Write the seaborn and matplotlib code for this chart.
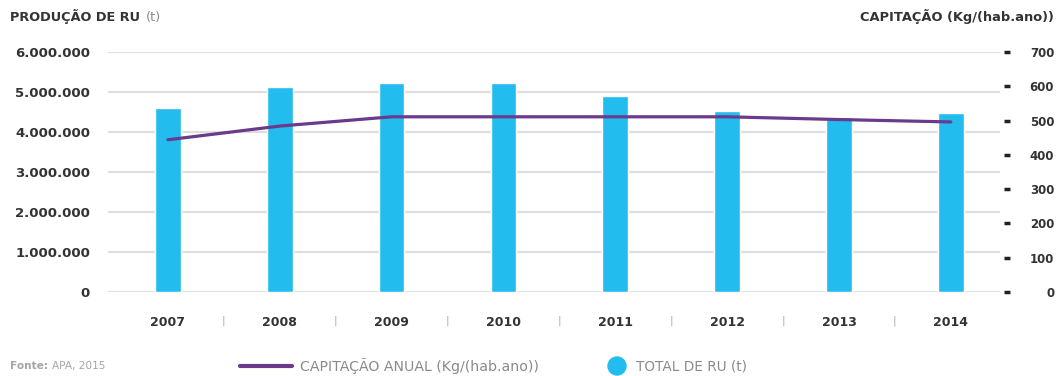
import matplotlib
matplotlib.use("Agg")
import matplotlib.pyplot as plt
from matplotlib.ticker import FuncFormatter, FixedLocator
from matplotlib.lines import Line2D
from matplotlib.patches import Circle
import seaborn as sns
import numpy as np
import pandas as pd

# ---- data ----
years = ["2007", "2008", "2009", "2010", "2011", "2012", "2013", "2014"]
total_ru = [4600000, 5120000, 5220000, 5220000, 4890000, 4530000, 4380000, 4480000]
capitacao = [444, 484, 511, 511, 511, 511, 503, 496]
left_ticks = [0, 1000000, 2000000, 3000000, 4000000, 5000000, 6000000]
right_ticks = [0, 100, 200, 300, 400, 500, 600, 700]

BAR = "#22BDEE"
LINE = "#6A3A8C"
TXT = "#333333"
GRAY = "#8a8a8a"
GRID = "#dedede"

sns.set_theme(style="white")
plt.rcParams["font.family"] = ["DejaVu Sans"]

W, H = 1057, 376
fig = plt.figure(figsize=(W / 100, H / 100), dpi=100)
L, R, B, T = 108, 1000, 292, 52
ax = fig.add_axes([L / W, 1 - B / H, (R - L) / W, (B - T) / H])

df = pd.DataFrame({"ano": years, "total": total_ru})
sns.barplot(data=df, x="ano", y="total", order=years, color=BAR, width=0.23,
            saturation=1, ax=ax, zorder=2)
ax.set_xlim(-0.536, 7.44)
ax.set_ylim(0, 6000000)
ax.set_xlabel("")
ax.set_ylabel("")
ax.yaxis.set_major_locator(FixedLocator(left_ticks))
ax.yaxis.set_major_formatter(FuncFormatter(lambda v, p: f"{int(v):,}".replace(",", ".")))
ax.grid(axis="y", color=GRID, linewidth=1.5, zorder=0)
ax.set_axisbelow(True)
for s in ax.spines.values():
    s.set_visible(False)
ax.tick_params(axis="y", length=0, pad=13, labelsize=9.5, labelcolor=TXT)
ax.tick_params(axis="x", length=0, pad=17, labelsize=9, labelcolor=TXT)
for lab in ax.get_yticklabels() + ax.get_xticklabels():
    lab.set_fontweight("bold")

# separators between years
ax.set_xticks(np.arange(len(years) - 1) + 0.5, minor=True)
ax.set_xticklabels(["|"] * (len(years) - 1), minor=True)
ax.tick_params(axis="x", which="minor", length=0, pad=17, labelsize=8, labelcolor="#aaaaaa")

ax2 = ax.twinx()
sns.lineplot(x=np.arange(len(years)), y=capitacao, color=LINE, linewidth=2.3, ax=ax2, zorder=3)
ax2.set_ylim(0, 700)
ax2.yaxis.set_major_locator(FixedLocator(right_ticks))
for s in ax2.spines.values():
    s.set_visible(False)
ax2.spines["right"].set_position(("outward", 3))
ax2.tick_params(axis="y", direction="out", length=4, width=2.5, color="#222222",
                pad=32, labelsize=8.5, labelcolor=TXT)
for lab in ax2.get_yticklabels():
    lab.set_fontweight("bold")
    lab.set_ha("right")
ax2.set_ylabel("")
ax2.grid(False)

# titles
t1 = fig.text(10 / W, 1 - 17 / H, "PRODUÇÃO DE RU", fontsize=9.3, fontweight="bold",
              color=TXT, va="center", ha="left")
ax.annotate("(t)", xy=(1, 0.5), xycoords=t1, xytext=(4, 0), textcoords="offset points",
            fontsize=9.3, color=GRAY, va="center", ha="left", annotation_clip=False)
fig.text(1054 / W, 1 - 17 / H, "CAPITAÇÃO (Kg/(hab.ano))", fontsize=9.4, fontweight="bold",
         color=TXT, va="center", ha="right")

# footer
f1 = fig.text(10 / W, 1 - 366 / H, "Fonte:", fontsize=7.6, fontweight="bold", color="#a5a5a5",
              va="center", ha="left")
ax.annotate("APA, 2015", xy=(1, 0.5), xycoords=f1, xytext=(3, 0), textcoords="offset points",
            fontsize=7.6, color="#a5a5a5", va="center", ha="left", annotation_clip=False)

fig.add_artist(Line2D([240 / W, 292 / W], [1 - 366 / H, 1 - 366 / H], color=LINE,
                      linewidth=3, transform=fig.transFigure))
fig.text(300 / W, 1 - 366 / H, "CAPITAÇÃO ANUAL (Kg/(hab.ano))", fontsize=10.2, color=GRAY,
         va="center", ha="left")
fig.add_artist(Circle((617, H - 366), 9, color=BAR, transform=None))
fig.text(636 / W, 1 - 366 / H, "TOTAL DE RU (t)", fontsize=9.8, color=GRAY,
         va="center", ha="left")

fig.savefig("out.png", dpi=100, facecolor="white")
